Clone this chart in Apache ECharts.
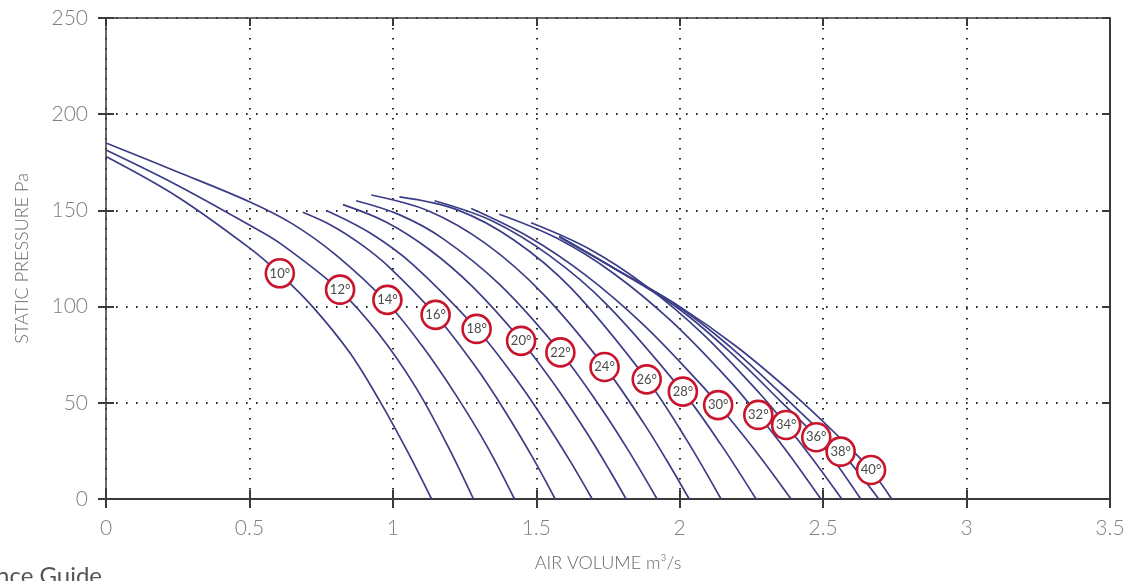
<!DOCTYPE html>
<html>
<head>
<meta charset="utf-8">
<script src="https://cdn.jsdelivr.net/npm/echarts@6/dist/echarts.min.js"></script>
<style>
html,body{margin:0;padding:0;background:#fff;}
#chart{width:1134px;height:581px;}
</style>
</head>
<body>
<div id="chart"></div>
<script>
// ---- data (x: air volume m3/s, y: static pressure Pa) ----
const xTicks = [0, 0.5, 1, 1.5, 2, 2.5, 3, 3.5];
const yTicks = [0, 50, 100, 150, 200, 250];
const angles = ['10°','12°','14°','16°','18°','20°','22°','24°','26°','28°','30°','32°','34°','36°','38°','40°'];

const c10 = [[0,178],[0.25,157],[0.5,130.5],[0.606,117],[0.72,100],[0.85,76],[0.954,51],[1.05,25],[1.135,0]];
const c12 = [[0,181.4],[0.25,163],[0.5,142.4],[0.606,133],[0.814,108.6],[0.95,86],[1.08,58],[1.19,28],[1.281,0]];
const c14 = [[0,185],[0.25,170],[0.5,154.5],[0.65,143],[0.8,127],[0.978,102.4],[1.1,80],[1.22,54],[1.33,27],[1.424,0]];
const c16 = [[0.686,149],[0.786,142.2],[0.886,132.7],[0.986,120.7],[1.149,95.6],[1.286,69.2],[1.386,46.8],[1.486,21.9],[1.566,0]];
const c18 = [[0.768,150],[0.918,138.5],[1.068,122.1],[1.291,88.6],[1.418,64.7],[1.518,43.3],[1.618,19.7],[1.695,0]];
const c20 = [[0.826,153],[0.976,144],[1.126,129.8],[1.276,110.6],[1.446,82.6],[1.576,56.8],[1.676,34.4],[1.756,14.8],[1.813,0]];
const c22 = [[0.872,155],[1.022,147.8],[1.172,135.6],[1.372,111.5],[1.584,76.4],[1.722,48.1],[1.822,25],[1.921,0]];
const c24 = [[0.925,158],[1.125,149.7],[1.325,132.6],[1.525,106.4],[1.738,68.8],[1.875,39.3],[1.955,20],[2.033,0]];
const c26 = [[1.023,157],[1.223,150.4],[1.423,134.5],[1.623,109.3],[1.885,62.2],[2.023,31],[2.144,0]];
const c28 = [[1.145,155],[1.345,144.6],[1.545,126.6],[1.745,101.2],[2.011,55.8],[2.145,28],[2.266,0]];
const c30 = [[1.273,151],[1.473,136.3],[1.673,116.2],[1.873,90.6],[2.073,59.7],[2.135,48.9],[2.273,23.3],[2.388,0]];
const c32 = [[1.371,148],[1.571,135.6],[1.771,117.1],[1.971,92.4],[2.171,61.9],[2.274,43.7],[2.371,25.2],[2.492,0]];
const c34 = [[1.482,143.6],[1.682,130.2],[1.882,110.8],[2.082,85.6],[2.282,54.3],[2.371,38.5],[2.462,21.1],[2.565,0]];
const c36 = [[1.58,136.5],[1.765,120.5],[2.0,98.5],[2.2,73],[2.35,51],[2.476,32.1],[2.631,0]];
const c38 = [[1.58,136.3],[1.765,120.5],[2.0,99.5],[2.2,76],[2.4,48],[2.561,24.6],[2.694,0]];
const c40 = [[1.58,136.3],[1.765,120.5],[2.0,100],[2.2,79],[2.4,54],[2.55,33],[2.666,15.1],[2.739,0]];

const labelX = [0.606,0.816,0.981,1.149,1.292,1.447,1.584,1.738,1.885,2.011,2.134,2.274,2.371,2.476,2.561,2.667];
const labelY = [117.3,108.8,103.5,95.7,88.4,82.2,76.2,68.6,62.2,55.8,48.8,43.7,38.5,32.1,24.6,15.1];

const curves = [c10,c12,c14,c16,c18,c20,c22,c24,c26,c28,c30,c32,c34,c36,c38,c40];

// ---- chart ----
const chart = echarts.init(document.getElementById('chart'), null, {renderer:'canvas'});
const FONT = 'Lato, "Open Sans", sans-serif';
const AX = '#3a3a3a';
const gridDots = {show:true, lineStyle:{color:'#2a2a2a', width:2, type:[1.6,8.4]}};

const series = curves.map((d,i)=>({
  type:'line', name:angles[i], data:d, xAxisIndex:0, yAxisIndex:0,
  showSymbol:false, smooth:0.35,
  lineStyle:{color:'#3b3d86', width:1.7}, z:3, silent:true
}));
series.push({
  type:'scatter', xAxisIndex:0, yAxisIndex:0, z:5, silent:true,
  data: labelX.map((x,i)=>[x,labelY[i],angles[i]]),
  symbol:'circle', symbolSize:28,
  itemStyle:{color:'#ffffff', borderColor:'#c8142c', borderWidth:2.6, opacity:1},
  label:{show:true, position:'inside', formatter:p=>p.value[2], color:'#4a4a4a', fontSize:13, fontFamily:FONT}
});

chart.setOption({
  animation:false,
  backgroundColor:'#ffffff',
  grid:{left:106, right:24, top:18, bottom:82, containLabel:false},
  xAxis:[
    {type:'value', min:0, max:3.5, interval:0.5, position:'bottom',
     axisLine:{show:true, onZero:false, lineStyle:{color:AX, width:2}},
     axisTick:{show:true, inside:false, length:9, lineStyle:{color:AX, width:2}},
     axisLabel:{color:'#808080', fontSize:21, fontFamily:FONT, fontWeight:300, margin:19, formatter:v=>String(v)},
     splitLine:gridDots,
     name:'AIR VOLUME m³/s', nameLocation:'middle', nameGap:55,
     nameTextStyle:{color:'#6a6a6a', fontSize:18, fontFamily:FONT, fontWeight:300}},
    {type:'value', min:0, max:3.5, interval:0.5, position:'bottom',
     axisLine:{show:false, onZero:false}, axisTick:{show:true, inside:true, length:9, lineStyle:{color:AX, width:2}},
     axisLabel:{show:false}, splitLine:{show:false}},
    {type:'value', min:0, max:3.5, interval:0.5, position:'top',
     axisLine:{show:true, onZero:false, lineStyle:{color:AX, width:1.5}},
     axisTick:{show:true, inside:true, length:8, lineStyle:{color:AX, width:2}},
     axisLabel:{show:false}, splitLine:{show:false}}
  ],
  yAxis:[
    {type:'value', min:0, max:250, interval:50, position:'left',
     axisLine:{show:true, onZero:false, lineStyle:{color:AX, width:1.5}},
     axisTick:{show:true, inside:false, length:8, lineStyle:{color:AX, width:2}},
     axisLabel:{color:'#808080', fontSize:21, fontFamily:FONT, fontWeight:300, margin:18},
     splitLine:gridDots,
     name:'STATIC PRESSURE Pa', nameLocation:'middle', nameGap:75, nameRotate:90,
     nameTextStyle:{color:'#6a6a6a', fontSize:18, fontFamily:FONT, fontWeight:300}},
    {type:'value', min:0, max:250, interval:50, position:'left',
     axisLine:{show:false, onZero:false}, axisTick:{show:true, inside:true, length:8, lineStyle:{color:AX, width:2}},
     axisLabel:{show:false}, splitLine:{show:false}},
    {type:'value', min:0, max:250, interval:50, position:'right',
     axisLine:{show:true, onZero:false, lineStyle:{color:AX, width:2}},
     axisTick:{show:true, inside:true, length:8, lineStyle:{color:AX, width:2}},
     axisLabel:{show:false}, splitLine:{show:false}}
  ],
  graphic:[{type:'text', left:-4, top:564, style:{text:'nce Guide', fill:'#555', fontSize:24, fontFamily:FONT}}],
  series:series
});
</script>
</body>
</html>
